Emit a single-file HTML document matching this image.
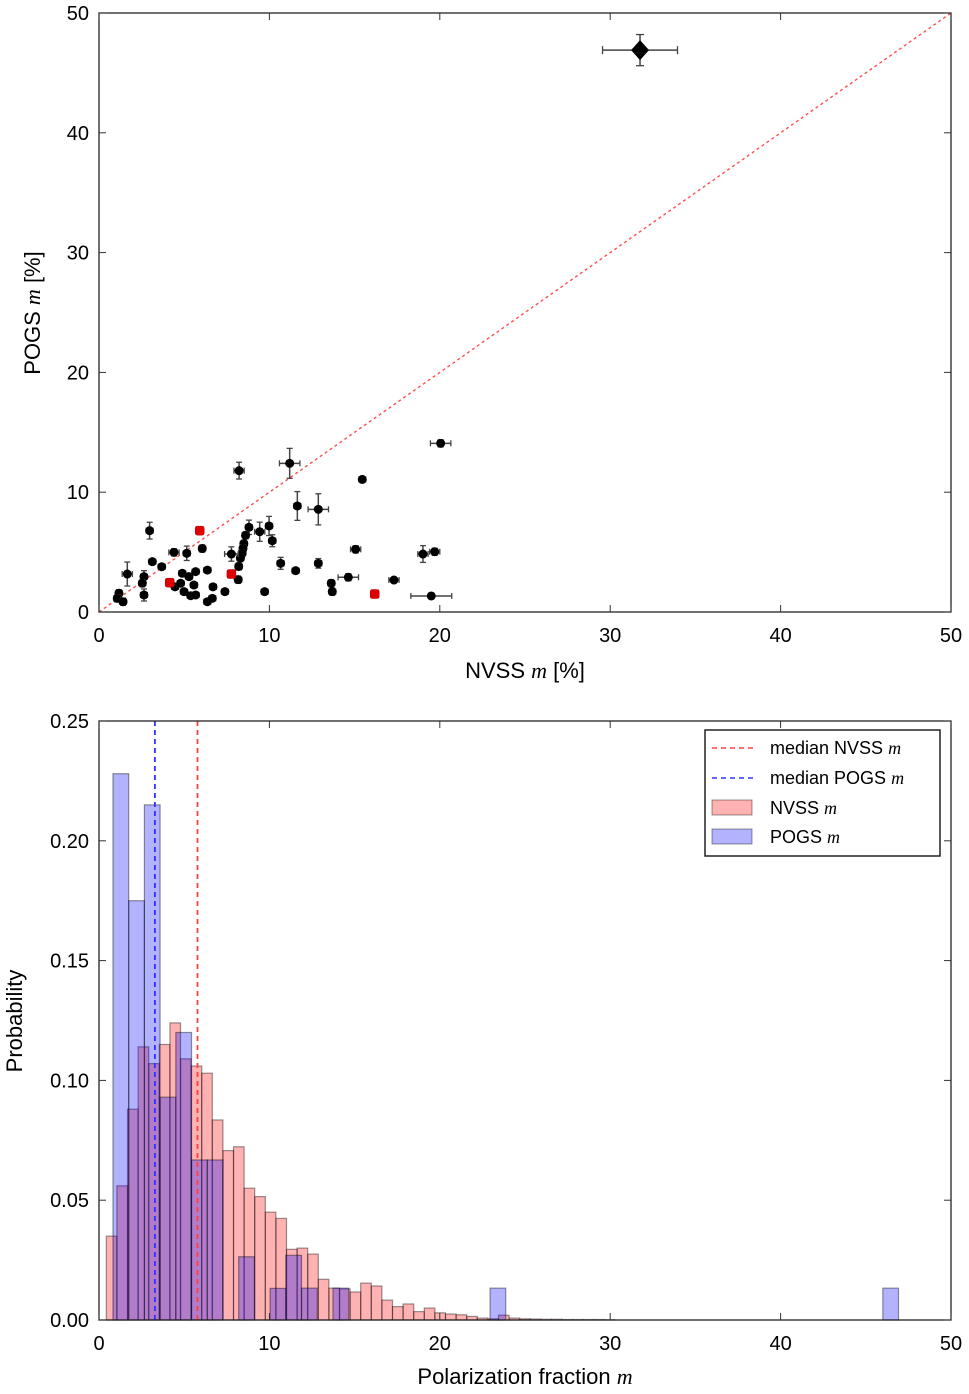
<!DOCTYPE html>
<html><head><meta charset="utf-8"><style>
body{margin:0;background:#fff;}
svg text{font-family:"Liberation Sans",sans-serif;fill:#000;}
.it{font-family:"Liberation Serif",serif;font-style:italic;}
</style></head><body>
<svg id="fig" width="969" height="1389" xmlns="http://www.w3.org/2000/svg">
<g id="top"></g>
<g id="bot"></g>
</svg>
<script>
const NS="http://www.w3.org/2000/svg";
// ---- scatter data ----
const scX=[20.05,8.22,11.19,15.45,11.64,12.87,2.97,8.8,9.43,9.98,10.17,8.6,8.5,8.45,8.4,8.3,8.2,8.17,7.77,6.06,5.15,4.4,3.13,3.68,1.66,2.64,2.54,2.64,4.46,4.89,5.28,5.67,6.36,4.99,5.38,5.67,4.79,5.57,6.69,6.36,6.65,7.39,1.17,1.07,1.41,9.72,10.66,11.54,12.87,13.63,13.69,14.63,15.06,17.31,19.01,19.7,19.5];
const scY=[14.08,11.8,12.41,11.07,8.85,8.57,6.79,7.07,6.7,7.18,5.95,6.4,5.7,5.3,4.9,4.5,3.8,2.7,4.84,5.3,4.9,4.98,4.2,3.78,3.17,2.95,2.4,1.42,2.1,3.23,2.95,3.37,3.5,1.7,1.36,1.42,2.4,2.25,2.1,0.86,1.14,1.7,1.56,1.14,0.86,1.7,4.06,3.45,4.06,2.4,1.7,2.9,5.23,2.67,4.84,5.03,1.34];
const scXerr=[0.6,0.3,0.6,0.2,0.2,0.6,0.2,0.2,0.3,0.2,0.2,0.2,0.2,0.2,0.2,0.2,0.2,0.2,0.4,0.2,0.2,0.3,0.2,0.2,0.3,0.2,0.2,0.2,0.2,0.2,0.2,0.2,0.2,0.2,0.2,0.2,0.2,0.2,0.2,0.2,0.2,0.2,0.2,0.2,0.2,0.2,0.2,0.2,0.2,0.2,0.2,0.6,0.3,0.3,0.3,0.3,1.2];
const scYerr=[0.3,0.7,1.25,0.2,1.2,1.3,0.7,0.6,0.8,0.8,0.5,0.3,0.3,0.3,0.3,0.3,0.3,0.3,0.6,0.3,0.6,0.3,0.2,0.2,1.0,0.5,0.3,0.5,0.2,0.2,0.2,0.2,0.2,0.2,0.2,0.2,0.2,0.2,0.2,0.2,0.2,0.2,0.3,0.3,0.3,0.2,0.5,0.2,0.4,0.3,0.3,0.3,0.3,0.2,0.7,0.3,0.2];
const redX=[5.91,7.77,4.15,16.18];
const redY=[6.79,3.17,2.45,1.5];
const bigX=[31.75], bigY=[46.9], bigXerr=[2.2], bigYerr=[1.3];
const scTicks=[0,10,20,30,40,50];
// ---- histogram data ----
const nvStart=0.43, nvWidth=0.622;
const nvVals=[0.035,0.056,0.088,0.114,0.107,0.115,0.124,0.109,0.106,0.103,0.0835,0.0707,0.0723,0.055,0.0515,0.045,0.0424,0.0295,0.030,0.0275,0.017,0.0133,0.013,0.0117,0.0154,0.0142,0.0083,0.0056,0.0067,0.0035,0.005,0.003,0.0025,0.0022,0.0015,0.0008,0.0005,0.002,0.0008,0.0005,0.0004,0.0003,0.0003,0.0002,0.0002,0.0002,0.0002,0.0001];
const pgStart=0.82, pgWidth=0.922;
const pgVals=[0.228,0.175,0.215,0.093,0.120,0.0668,0.0668,0,0.0264,0,0.0132,0.027,0.0133,0,0.0133,0,0,0,0,0,0,0,0,0,0.0133,0,0,0,0,0,0,0,0,0,0,0,0,0,0,0,0,0,0,0,0,0,0,0,0,0.0133];
const medNV=[5.78], medPG=[3.28];
const hxTicks=[0,10,20,30,40,50];
const hyTicks=[0,0.05,0.10,0.15,0.20,0.25];
const hyLabels=["0.00","0.05","0.10","0.15","0.20","0.25"];

function el(parent,tag,attrs,txt){const e=document.createElementNS(NS,tag);for(const k in attrs)e.setAttribute(k,attrs[k]);if(txt!==undefined)e.textContent=txt;parent.appendChild(e);return e;}

// ===== top scatter =====
const T=document.getElementById('top');
const L1=99,R1=951,T1=13,B1=612;
const sx=v=>L1+(R1-L1)*v/50, sy=v=>B1-(B1-T1)*v/50;
let d=el(T,'line',{x1:sx(0),y1:sy(0),x2:sx(50),y2:sy(50),stroke:'#ff5050','stroke-width':1.4,'stroke-dasharray':'3,3'});

function errbar(g,x,y,xe,ye,cap){
  el(g,'line',{x1:sx(x-xe),x2:sx(x+xe),y1:sy(y),y2:sy(y),stroke:'#444','stroke-width':1.5});
  el(g,'line',{x1:sx(x),x2:sx(x),y1:sy(y-ye),y2:sy(y+ye),stroke:'#444','stroke-width':1.5});
  [[sx(x-xe),sy(y),0],[sx(x+xe),sy(y),0],[sx(x),sy(y-ye),1],[sx(x),sy(y+ye),1]].forEach(p=>{
    if(p[2])el(g,'line',{x1:p[0]-cap,x2:p[0]+cap,y1:p[1],y2:p[1],stroke:'#444','stroke-width':1.3});
    else el(g,'line',{x1:p[0],x2:p[0],y1:p[1]-cap,y2:p[1]+cap,stroke:'#444','stroke-width':1.3});});
}
for(let i=0;i<scX.length;i++){
  const g=el(T,'g',{});
  
  
  errbar(g,scX[i],scY[i],scXerr[i],scYerr[i],3);
  el(g,'circle',{cx:sx(scX[i]),cy:sy(scY[i]),r:4.5,fill:'#000'});
}
for(let i=0;i<redX.length;i++){
  const r=el(T,'rect',{x:sx(redX[i])-4.5,y:sy(redY[i])-4.5,width:9,height:9,rx:2,fill:'#e00000',stroke:'#a00','stroke-width':0.5});
  
}
for(let i=0;i<bigX.length;i++){
  const g=el(T,'g',{});
  
  
  errbar(g,bigX[i],bigY[i],bigXerr[i],bigYerr[i],4);
  const cx=sx(bigX[i]),cy=sy(bigY[i]);
  el(g,'polygon',{points:`${cx},${cy-10} ${cx+9},${cy} ${cx},${cy+10} ${cx-9},${cy}`,fill:'#000'});
}
el(T,'rect',{x:L1,y:T1,width:R1-L1,height:B1-T1,fill:'none',stroke:'#222','stroke-width':1.3});
scTicks.forEach(v=>{
  el(T,'line',{x1:sx(v),x2:sx(v),y1:B1,y2:B1-7,stroke:'#333'});
  el(T,'line',{x1:sx(v),x2:sx(v),y1:T1,y2:T1+7,stroke:'#333'});
  el(T,'line',{x1:L1,x2:L1+7,y1:sy(v),y2:sy(v),stroke:'#333'});
  el(T,'line',{x1:R1,x2:R1-7,y1:sy(v),y2:sy(v),stroke:'#333'});
  const a=el(T,'text',{x:sx(v),y:B1+30,'font-size':20,'text-anchor':'middle'},String(v));
  
  const b=el(T,'text',{x:L1-10,y:sy(v)+7,'font-size':20,'text-anchor':'end'},String(v));
  
});
// ===== bottom histogram =====
const B=document.getElementById('bot');
const L2=99,R2=951,T2=721,B2=1320;
const hx=v=>L2+(R2-L2)*v/50, hy=v=>B2-(B2-T2)*v/0.25;
nvVals.forEach((v,i)=>{ if(v<=0)return;
  const x0=hx(nvStart+i*nvWidth),x1=hx(nvStart+(i+1)*nvWidth);
  const r=el(B,'rect',{x:x0,y:hy(v),width:x1-x0,height:B2-hy(v),fill:'rgba(255,0,0,0.3)',stroke:'rgba(0,0,0,0.4)','stroke-width':1.2});
  
});
pgVals.forEach((v,i)=>{ if(v<=0)return;
  const x0=hx(pgStart+i*pgWidth),x1=hx(pgStart+(i+1)*pgWidth);
  const r=el(B,'rect',{x:x0,y:hy(v),width:x1-x0,height:B2-hy(v),fill:'rgba(0,0,255,0.3)',stroke:'rgba(0,0,0,0.4)','stroke-width':1.2});
  
});
let m1=el(B,'line',{x1:hx(medNV[0]),x2:hx(medNV[0]),y1:T2,y2:B2,stroke:'#ff4040','stroke-width':1.8,'stroke-dasharray':'5,4'});

let m2=el(B,'line',{x1:hx(medPG[0]),x2:hx(medPG[0]),y1:T2,y2:B2,stroke:'#3030ff','stroke-width':1.8,'stroke-dasharray':'5,4'});

el(B,'rect',{x:L2,y:T2,width:R2-L2,height:B2-T2,fill:'none',stroke:'#222','stroke-width':1.3});
hxTicks.forEach(v=>{
  el(B,'line',{x1:hx(v),x2:hx(v),y1:B2,y2:B2-7,stroke:'#333'});
  el(B,'line',{x1:hx(v),x2:hx(v),y1:T2,y2:T2+7,stroke:'#333'});
  const a=el(B,'text',{x:hx(v),y:B2+30,'font-size':20,'text-anchor':'middle'},String(v));
  
});
hyTicks.forEach((v,i)=>{
  el(B,'line',{x1:L2,x2:L2+7,y1:hy(v),y2:hy(v),stroke:'#333'});
  el(B,'line',{x1:R2,x2:R2-7,y1:hy(v),y2:hy(v),stroke:'#333'});
  const b=el(B,'text',{x:L2-10,y:hy(v)+7,'font-size':20,'text-anchor':'end'},hyLabels[i]);
  
});
</script>
<svg style="position:absolute;left:0;top:0" width="969" height="1389" xmlns="http://www.w3.org/2000/svg">
<text x="525" y="678" font-size="22" text-anchor="middle">NVSS <tspan class="it">m</tspan> [%]</text>
<text transform="translate(40,313) rotate(-90)" font-size="22" text-anchor="middle">POGS <tspan class="it">m</tspan> [%]</text>
<text x="525" y="1384" font-size="22" text-anchor="middle">Polarization fraction <tspan class="it">m</tspan></text>
<text transform="translate(22,1021) rotate(-90)" font-size="22" text-anchor="middle">Probability</text>
<g>
<rect x="705" y="730" width="235" height="126" fill="#fff" stroke="#222" stroke-width="1.5"/>
<line x1="712" y1="748" x2="754" y2="748" stroke="#ff4040" stroke-width="1.6" stroke-dasharray="5,4"/>
<text x="770" y="754" font-size="18">median NVSS <tspan class="it">m</tspan></text>
<line x1="712" y1="778" x2="754" y2="778" stroke="#3030ff" stroke-width="1.6" stroke-dasharray="5,4"/>
<text x="770" y="784" font-size="18">median POGS <tspan class="it">m</tspan></text>
<rect x="712" y="800" width="40" height="15" fill="rgba(255,0,0,0.3)" stroke="rgba(0,0,0,0.4)"/>
<text x="770" y="814" font-size="18">NVSS <tspan class="it">m</tspan></text>
<rect x="712" y="829" width="40" height="15" fill="rgba(0,0,255,0.3)" stroke="rgba(0,0,0,0.4)"/>
<text x="770" y="843" font-size="18">POGS <tspan class="it">m</tspan></text>
</g>
</svg>
</body></html>
